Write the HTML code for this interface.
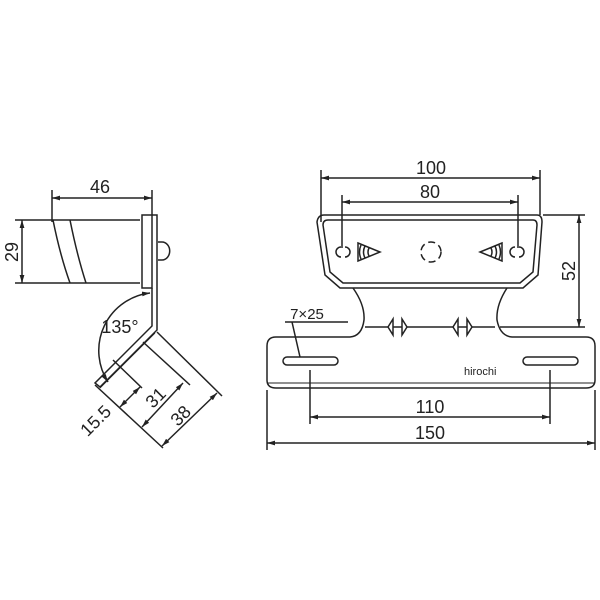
<!DOCTYPE html>
<html><head><meta charset="utf-8"><style>
html,body{margin:0;padding:0;background:#fff;}
svg{display:block}
text{font-family:"Liberation Sans",sans-serif;fill:#222;}
</style></head><body>
<svg width="600" height="600" viewBox="0 0 600 600" xmlns="http://www.w3.org/2000/svg">
<defs>
<marker id="a" viewBox="0 0 10 6" refX="10" refY="3" markerWidth="8" markerHeight="5" orient="auto-start-reverse" markerUnits="userSpaceOnUse"><path d="M0,0 L10,3 L0,6 z" fill="#222"/></marker>
</defs>
<g stroke="#222" stroke-width="1.5" fill="none">
<!-- LEFT VIEW -->
<line x1="52" y1="190" x2="52" y2="222"/>
<line x1="152" y1="190" x2="152" y2="215"/>
<line x1="52" y1="198" x2="152" y2="198" marker-start="url(#a)" marker-end="url(#a)"/>
<line x1="15" y1="220" x2="140" y2="220"/>
<line x1="15" y1="283" x2="140" y2="283"/>
<line x1="22" y1="220" x2="22" y2="283" marker-start="url(#a)" marker-end="url(#a)"/>
<path d="M53,220 Q60,255 70,283"/>
<path d="M70,220 Q77,255 86,283"/>
<rect x="142" y="215" width="10" height="73"/>
<path d="M158,242 h4 a6,7 0 0 1 0,18 h-4"/>
<path d="M152,215 L157,215 L157,330 L100,387 L95,383 L152,326 L152,288"/>
<line x1="155" y1="333" x2="100" y2="388" stroke-width="0.9"/>
<path d="M150,293 A58,58 0 0 0 108,382" marker-start="url(#a)" marker-end="url(#a)"/>
<line x1="95" y1="385" x2="163" y2="448"/>
<line x1="113" y1="360" x2="142" y2="388"/>
<line x1="143" y1="342" x2="190" y2="385"/>
<line x1="157" y1="332" x2="222" y2="396"/>
<line x1="120" y1="407" x2="140" y2="387" marker-start="url(#a)" marker-end="url(#a)"/>
<line x1="142" y1="427" x2="183" y2="383" marker-start="url(#a)" marker-end="url(#a)"/>
<line x1="162" y1="446" x2="217" y2="393" marker-start="url(#a)" marker-end="url(#a)"/>
<!-- RIGHT VIEW -->
<line x1="321" y1="170" x2="321" y2="222"/>
<line x1="540" y1="170" x2="540" y2="215"/>
<line x1="321" y1="178" x2="540" y2="178" marker-start="url(#a)" marker-end="url(#a)"/>
<line x1="342" y1="195" x2="342" y2="248"/>
<line x1="518" y1="195" x2="518" y2="248"/>
<line x1="342" y1="202" x2="518" y2="202" marker-start="url(#a)" marker-end="url(#a)"/>
<path d="M324,215 H537 Q542,215 542,222 L538,275 L523,288 H340 L325,275 L317,222 Q318,215 324,215 Z"/>
<path d="M328,220 H533 Q537,220 537,225 L533,272 L520,283 H343 L330,272 L323,225 Q323,220 328,220 Z"/>
<line x1="543" y1="215" x2="585" y2="215"/>
<line x1="500" y1="327" x2="585" y2="327"/>
<line x1="579" y1="215" x2="579" y2="327" marker-start="url(#a)" marker-end="url(#a)"/>
<path d="M353,288 Q365,305 364,320 Q362,336 350,337 H276 Q267,337 267,346 V380 Q267,388 276,388 H586 Q595,388 595,380 V346 Q595,337 586,337 H512 Q500,336 497,320 Q496,305 507,288"/>
<line x1="268" y1="383" x2="594" y2="383" stroke-width="0.9"/>
<rect x="283" y="357" width="55" height="8" rx="4"/>
<rect x="523" y="357" width="55" height="8" rx="4"/>
<line x1="365" y1="327" x2="495" y2="327"/>
<path d="M393,319 L388,327 L393,335 Z M402,319 L407,327 L402,335 Z M458,319 L453,327 L458,335 Z M467,319 L472,327 L467,335 Z" fill="#fff"/>
<line x1="285" y1="322" x2="348" y2="322"/>
<path d="M292,322 L300,357"/>
<line x1="310" y1="370" x2="310" y2="424"/>
<line x1="550" y1="370" x2="550" y2="424"/>
<line x1="310" y1="417" x2="550" y2="417" marker-start="url(#a)" marker-end="url(#a)"/>
<line x1="267" y1="390" x2="267" y2="450"/>
<line x1="595" y1="390" x2="595" y2="450"/>
<line x1="267" y1="443" x2="595" y2="443" marker-start="url(#a)" marker-end="url(#a)"/>
<path d="M341,247 A5,5 0 0 0 341,257 M345,247 A5,5 0 0 1 345,257"/>
<path d="M515,247 A5,5 0 0 0 515,257 M519,247 A5,5 0 0 1 519,257"/>
<path d="M358,243 L380,252 L358,261 Z"/>
<path d="M361,245 Q358,252 361,259 M365,246 Q362,252 365,258 M369,248 Q367,252 369,256"/>
<path d="M502,243 L480,252 L502,261 Z"/>
<path d="M499,245 Q502,252 499,259 M495,246 Q498,252 495,258 M491,248 Q493,252 491,256"/>
<circle cx="431" cy="252" r="10" stroke-dasharray="7,4"/>
</g>
<text x="100" y="193" font-size="18" text-anchor="middle">46</text>
<text transform="translate(18,252) rotate(-90)" font-size="18" text-anchor="middle">29</text>
<text x="120" y="333" font-size="18" text-anchor="middle">135°</text>
<text transform="translate(100,425) rotate(-45)" font-size="18" text-anchor="middle">15.5</text>
<text transform="translate(160,402) rotate(-45)" font-size="18" text-anchor="middle">31</text>
<text transform="translate(185,420) rotate(-45)" font-size="18" text-anchor="middle">38</text>
<text x="431" y="174" font-size="18" text-anchor="middle">100</text>
<text x="430" y="198" font-size="18" text-anchor="middle">80</text>
<text transform="translate(575,271) rotate(-90)" font-size="18" text-anchor="middle">52</text>
<text x="307" y="319" font-size="15" text-anchor="middle">7×25</text>
<text x="464" y="375" font-size="11">hirochi</text>
<text x="430" y="413" font-size="18" text-anchor="middle">110</text>
<text x="430" y="439" font-size="18" text-anchor="middle">150</text>
</svg>
</body></html>
